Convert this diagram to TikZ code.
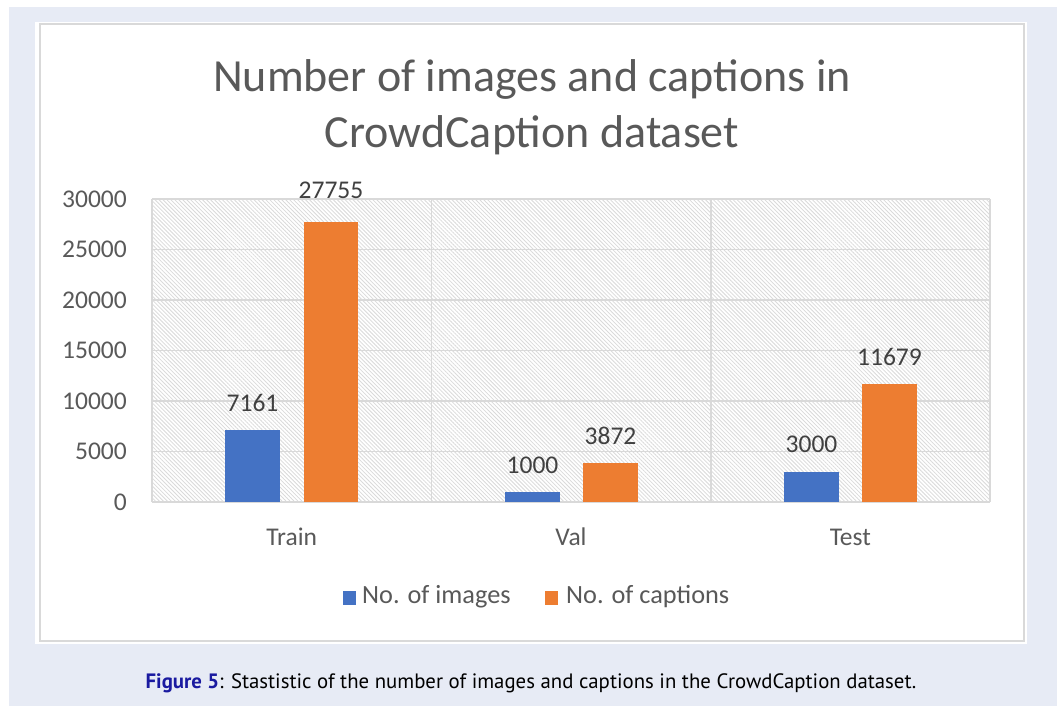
\documentclass[tikz,border=0pt]{standalone}
\usepackage{fontspec}
\setmainfont{Carlito}
\newfontfamily\capfont{PT Sans}
\usetikzlibrary{patterns.meta}
\definecolor{bgblue}{HTML}{E7EBF5}
\definecolor{framegray}{HTML}{D9D9D9}
\definecolor{gridgray}{HTML}{D9D9D9}
\definecolor{hatchgray}{HTML}{DADADA}
\definecolor{txtgray}{HTML}{595959}
\definecolor{valgray}{HTML}{404040}
\definecolor{barblue}{HTML}{4472C4}
\definecolor{barorange}{HTML}{ED7D31}
\definecolor{fignavy}{HTML}{1A1AA0}
\tikzset{
  gridline/.style={draw=gridgray, line width=1.6pt},
  bluebar/.style={fill=barblue, draw=none},
  orangebar/.style={fill=barorange, draw=none},
  ticklab/.style={font=\fontsize{25.5}{28}\selectfont, text=txtgray, inner sep=0pt},
  vallab/.style={font=\fontsize{25.5}{28}\selectfont, text=valgray, inner sep=0pt},
  catlab/.style={font=\fontsize{25.5}{28}\selectfont, text=txtgray, inner sep=0pt},
  leglab/.style={font=\fontsize{26.3}{28}\selectfont, text=txtgray, inner sep=0pt, anchor=west},
}
\begin{document}
\begin{tikzpicture}[x=1pt,y=-1pt]
\useasboundingbox (0,0) rectangle (1057,706);
% background
\fill[white] (0,0) rectangle (1057,706);
\fill[bgblue] (9,7) rectangle (1057,706);
\fill[white] (35,22) rectangle (1027,644);
\draw[framegray, line width=2pt] (40,24) rectangle (1024,641);
% plot area hatch
\fill[pattern={Lines[angle=-45,distance=2.8pt,line width=0.8pt]}, pattern color=hatchgray] (152,199) rectangle (990,502);
% gridlines (value v in thousands: y = 502 - 10.1*v)
\foreach \v in {0,5,...,30}{
  \draw[gridline] (152,{502-10.1*\v}) -- (990,{502-10.1*\v});
}
\foreach \xx in {152,431.3,710.7,990}{
  \draw[gridline] (\xx,199) -- (\xx,502);
}
% y tick labels
\foreach \v/\lab in {0/0,5/5000,10/10000,15/15000,20/20000,25/25000,30/30000}{
  \node[ticklab, anchor=east] (t\v) at (127,{502-10.1*\v}) {\lab};
}
% title
\node[font=\fontsize{46}{56}\selectfont, text=txtgray, align=center, inner sep=0pt] (title) at (532,107) {Number of images and captions in\\CrowdCaption dataset};
% bars
\path[bluebar] (225,502) rectangle (280,{502-10.1*7.161});
\path[orangebar] (304,502) rectangle (358,{502-10.1*27.755});
\path[bluebar] (505,502) rectangle (560,{502-10.1*1.000});
\path[orangebar] (583,502) rectangle (638,{502-10.1*3.872});
\path[bluebar] (784,502) rectangle (839,{502-10.1*3.000});
\path[orangebar] (862,502) rectangle (917,{502-10.1*11.679});
% value labels
\node[vallab] (v1) at (252.5,{502-10.1*7.161-27}) {7161};
\node[vallab] (v2) at (331,{502-10.1*27.755-31}) {27755};
\node[vallab] (v3) at (532.5,{502-10.1*1.000-27}) {1000};
\node[vallab] (v4) at (610.5,{502-10.1*3.872-27}) {3872};
\node[vallab] (v5) at (811.5,{502-10.1*3.000-27}) {3000};
\node[vallab] (v6) at (889.5,{502-10.1*11.679-27}) {11679};
% category labels
\node[catlab] (c1) at (291.7,537) {Train};
\node[catlab] (c2) at (571,537) {Val};
\node[catlab] (c3) at (850.3,537) {Test};
% legend
\fill[barblue] (343,591) rectangle (356,605);
\node[leglab] (l1) at (362,597) {No. of images};
\fill[barorange] (545,591) rectangle (558,605);
\node[leglab] (l2) at (566,597) {No. of captions};
% caption
\node[font=\capfont\fontsize{20.8}{24}\selectfont, inner sep=0pt] (cap) at (531,683) {\textcolor{fignavy}{\textbf{Figure 5}}: Stastistic of the number of images and captions in the CrowdCaption dataset.};
\end{tikzpicture}
\end{document}
